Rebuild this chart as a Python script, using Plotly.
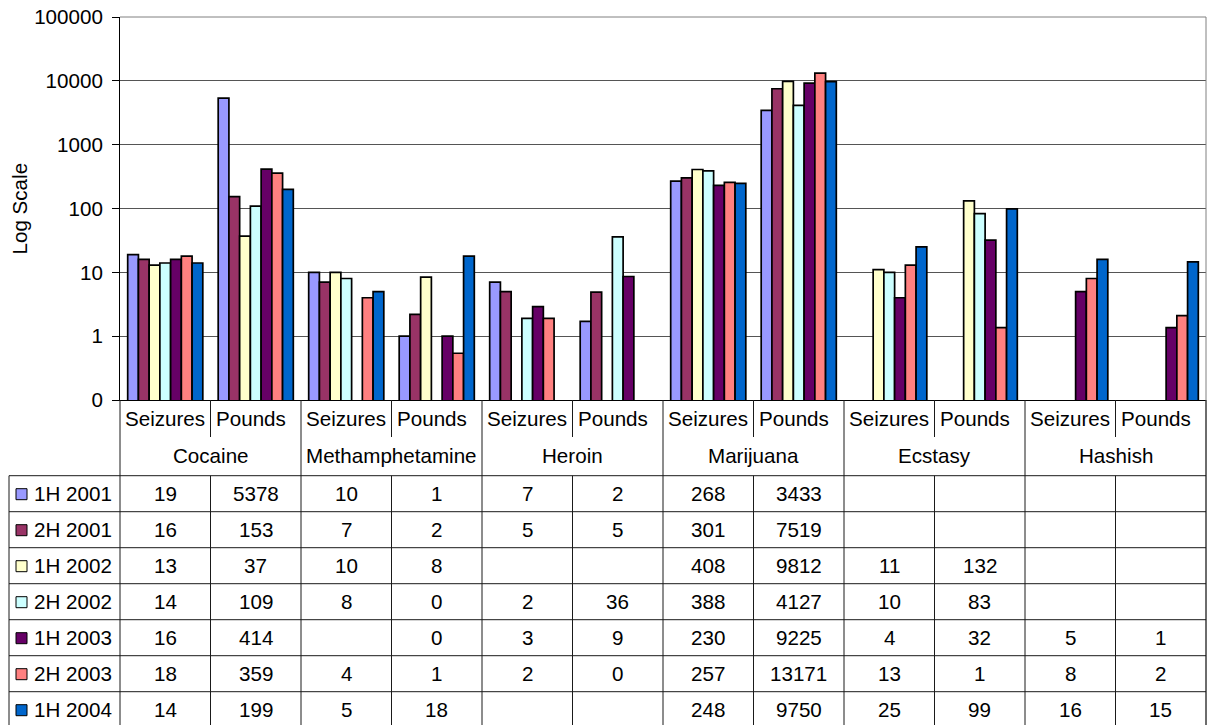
import plotly.graph_objects as go

# ---- data -------------------------------------------------------------
drugs = ["Cocaine", "Methamphetamine", "Heroin", "Marijuana", "Ecstasy", "Hashish"]
measures = ["Seizures", "Pounds"]
periods = ["1H 2001", "2H 2001", "1H 2002", "2H 2002", "1H 2003", "2H 2003", "1H 2004"]
colors = ["#9999FF", "#993366", "#FFFFCC", "#CCFFFF", "#660066", "#FF8080", "#0066CC"]

# values per period, in column order: (drug, Seizures), (drug, Pounds) ...
v_1h2001 = [19, 5378, 10, 1.0, 7, 1.7, 268, 3433, None, None, None, None]
v_2h2001 = [16, 153, 7, 2.2, 5, 4.9, 301, 7519, None, None, None, None]
v_1h2002 = [13, 37, 10, 8.4, None, None, 408, 9812, 11, 132, None, None]
v_2h2002 = [14, 109, 8, 0.04, 1.9, 36, 388, 4127, 10, 83, None, None]
v_1h2003 = [16, 414, None, 0, 2.9, 8.6, 230, 9225, 4, 32, 5, 1.36]
v_2h2003 = [18, 359, 4, 0.54, 1.9, 0.03, 257, 13171, 13, 1.36, 8, 2.1]
v_1h2004 = [14, 199, 5, 18, None, None, 248, 9750, 25, 99, 16, 14.6]
series = [v_1h2001, v_2h2001, v_1h2002, v_2h2002, v_1h2003, v_2h2003, v_1h2004]

tick_vals = [0.1, 1, 10, 100, 1000, 10000, 100000]
tick_text = ["0", "1", "10", "100", "1000", "10000", "100000"]

# ---- geometry (pixels) ------------------------------------------------
FIG_W, FIG_H = 1210, 725
L, R, T, B = 120, 1206, 17, 400
PW, PH = R - L, B - T
FONT = "Liberation Sans, Arial, sans-serif"
FS = 20.6
LINE = "#1a1a1a"


def px(x):
    return (x - L) / PW


def py(y):
    return (B - y) / PH


columns = [f"{d} {m}" for d in drugs for m in measures]
ncol = len(columns)
col_w = PW / ncol


def col_edge(i):
    return L + col_w * i


fig = go.Figure()
for name, vals, c in zip(periods, series, colors):
    # a zero cannot sit on a log axis; it is drawn at 1, as Excel does
    plot_vals = [None if v is None else (1 if v == 0 else v) for v in vals]
    fig.add_trace(go.Bar(
        x=columns, y=plot_vals, name=name,
        marker=dict(color=c, line=dict(color="black", width=1.7)),
        showlegend=False,
    ))

shapes = []
annotations = []


def hline(x0, x1, y, color=LINE, w=1):
    shapes.append(dict(type="line", xref="paper", yref="paper",
                       x0=px(x0), x1=px(x1), y0=py(y), y1=py(y),
                       line=dict(color=color, width=w)))


def vline(x, y0, y1, color=LINE, w=1):
    shapes.append(dict(type="line", xref="paper", yref="paper",
                       x0=px(x), x1=px(x), y0=py(y0), y1=py(y1),
                       line=dict(color=color, width=w)))


def text(x, y, s, anchor="center"):
    annotations.append(dict(xref="paper", yref="paper", x=px(x), y=py(y),
                            text=s, showarrow=False, xanchor=anchor,
                            yanchor="middle",
                            font=dict(family=FONT, size=FS, color="black")))


# plot-area frame: top and right edges
hline(L, R, T, color="#808080")
TABLE_TOP = 475.7
ROW_H = 36
TABLE_LEFT = 9
TABLE_BOTTOM = TABLE_TOP + ROW_H * len(periods)
vline(R, T, TABLE_BOTTOM, color="#808080")

# header rows
SUB_Y = 418
SUB_BOTTOM = 437
GROUP_Y = 455.5
for i in range(ncol + 1):
    x = col_edge(i)
    if i % 2 == 0:
        vline(x, B, TABLE_BOTTOM)
    else:
        vline(x, B, SUB_BOTTOM)
        vline(x, TABLE_TOP, TABLE_BOTTOM)
for i, col in enumerate(columns):
    text(col_edge(i) + 3, SUB_Y, measures[i % 2], anchor="left")
for g, d in enumerate(drugs):
    text((col_edge(2 * g) + col_edge(2 * g + 2)) / 2, GROUP_Y, d)

# data rows
vline(TABLE_LEFT, TABLE_TOP, TABLE_BOTTOM)
for r in range(len(periods) + 1):
    hline(TABLE_LEFT, R, TABLE_TOP + ROW_H * r)
for r, (name, vals, c) in enumerate(zip(periods, series, colors)):
    yc = TABLE_TOP + ROW_H * (r + 0.5)
    shapes.append(dict(type="rect", xref="paper", yref="paper",
                       x0=px(16), x1=px(27), y0=py(yc - 5), y1=py(yc + 6),
                       fillcolor=c, line=dict(color="black", width=1)))
    text(32, yc, name, anchor="left")
    for i, v in enumerate(vals):
        if v is None:
            continue
        text((col_edge(i) + col_edge(i + 1)) / 2, yc, f"{v:.0f}")

# axis title
annotations.append(dict(xref="paper", yref="paper", x=px(19), y=py((T + B) / 2),
                        text="Log Scale", showarrow=False, textangle=-90,
                        xanchor="center", yanchor="middle",
                        font=dict(family=FONT, size=FS, color="black")))

fig.update_layout(
    width=FIG_W, height=FIG_H,
    margin=dict(l=L, r=FIG_W - R, t=T, b=FIG_H - B, pad=0),
    paper_bgcolor="white", plot_bgcolor="white",
    barmode="group", bargap=0.17, bargroupgap=0,
    font=dict(family=FONT, size=FS, color="black"),
    shapes=shapes, annotations=annotations,
    xaxis=dict(showticklabels=False, ticks="", showgrid=False,
               showline=True, linecolor="black", linewidth=1,
               range=[-0.5, ncol - 0.5], fixedrange=True),
    yaxis=dict(type="log", range=[-1, 5], tickvals=tick_vals, ticktext=tick_text,
               ticks="outside", ticklen=7, tickcolor="black",
               ticklabelstandoff=5,
               showgrid=True, gridcolor="#555555", gridwidth=1,
               showline=True, linecolor="black", linewidth=1,
               tickfont=dict(family=FONT, size=FS, color="black"),
               zeroline=False, fixedrange=True),
)

fig.write_html("out.html")
